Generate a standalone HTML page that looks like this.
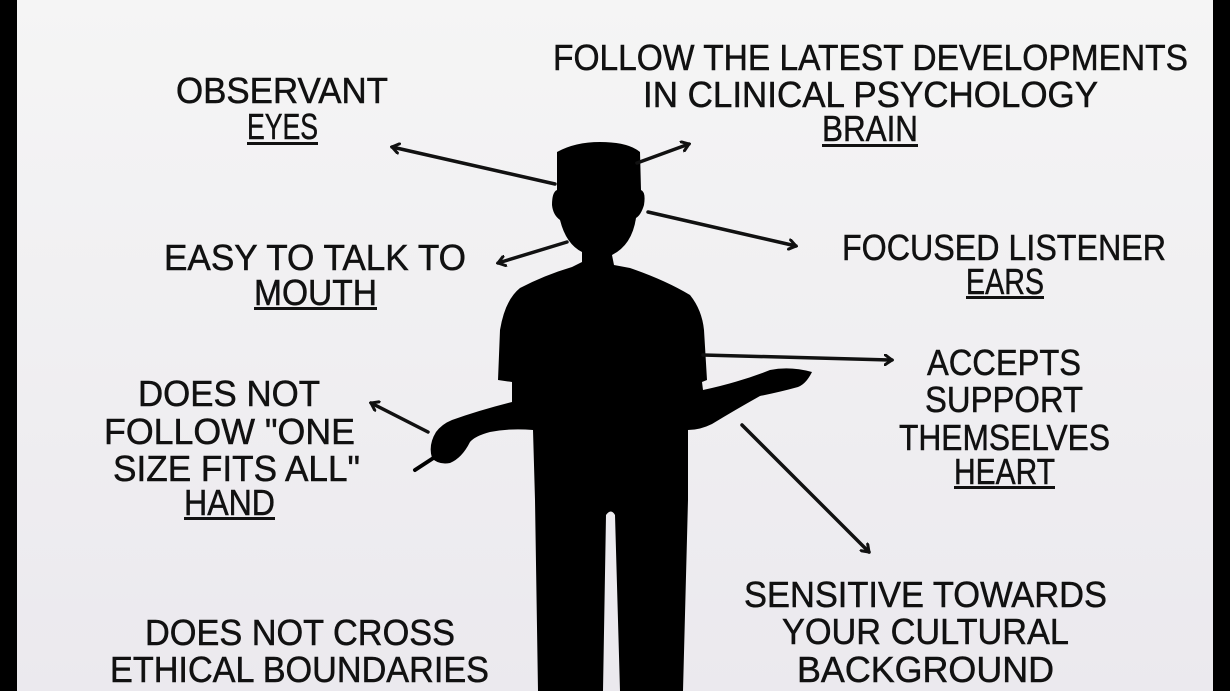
<!DOCTYPE html>
<html><head><meta charset="utf-8"><style>
html,body{margin:0;padding:0;}
body{width:1230px;height:691px;overflow:hidden;background:#000;}
svg{display:block}
text{font-family:"Liberation Sans",sans-serif;font-size:36px;fill:#111;stroke:#111;stroke-width:0.5;}
</style></head><body>
<svg width="1230" height="691" viewBox="0 0 1230 691" xmlns="http://www.w3.org/2000/svg">
<defs>
<linearGradient id="bg" x1="0" y1="0" x2="0" y2="1">
<stop offset="0" stop-color="#f5f5f5"/><stop offset="1" stop-color="#ebe9ee"/>
</linearGradient>
<marker id="a" markerWidth="10" markerHeight="12" refX="8" refY="6" orient="auto" markerUnits="userSpaceOnUse" viewBox="0 0 10 12">
<path d="M1,1 L8,6 L1,11" fill="none" stroke="#111" stroke-width="3" stroke-linecap="round"/>
</marker>
</defs>
<rect x="17" y="0" width="1196" height="691" fill="url(#bg)"/>
<g fill="#000">
<path d="M557,152 Q575,142 600,142 Q628,142 640,152 L641,190 Q646,192 644,205 Q641,215 636,218 Q632,245 612,255 L614,265 L630,268 Q665,280 690,295 Q702,310 704,330 L707,380 L702,382 L703,390 Q740,382 770,370 Q790,366 812,372 Q806,384 798,387 Q780,392 760,396 Q735,410 712,424 Q700,430 688,430 L688,500 L683,691 L620,691 L615,515 Q611,508 606,515 L603,691 L538,691 L535,500 L533,430 Q510,428 490,432 Q475,436 470,442 Q462,458 450,463 Q438,465 432,458 Q428,445 436,432 Q442,424 452,420 Q480,410 512,402 L512,382 L498,380 L500,330 Q505,300 520,288 Q545,275 572,267 L582,262 L582,252 Q566,244 560,220 Q553,215 552,205 Q552,192 557,190 Z"/>
<path d="M415,470 L438,455" stroke="#000" stroke-width="4" stroke-linecap="round"/>
</g>
<g stroke="#111" stroke-width="3.5" fill="none" stroke-linecap="round">
<line x1="555" y1="184" x2="392" y2="147" marker-end="url(#a)"/>
<line x1="637" y1="163" x2="689" y2="144" marker-end="url(#a)"/>
<line x1="648" y1="212" x2="796" y2="246" marker-end="url(#a)"/>
<line x1="567" y1="242" x2="498" y2="263" marker-end="url(#a)"/>
<line x1="703" y1="355" x2="892" y2="360" marker-end="url(#a)"/>
<line x1="428" y1="432" x2="371" y2="403" marker-end="url(#a)"/>
<line x1="742" y1="425" x2="869" y2="552" marker-end="url(#a)"/>
</g>
<g>
<text x="176" y="103" textLength="212" lengthAdjust="spacingAndGlyphs">OBSERVANT</text>
<text x="247" y="139" textLength="71" lengthAdjust="spacingAndGlyphs">EYES</text>
<text x="553" y="70" textLength="635" lengthAdjust="spacingAndGlyphs">FOLLOW THE LATEST DEVELOPMENTS</text>
<text x="643" y="107" textLength="455" lengthAdjust="spacingAndGlyphs">IN CLINICAL PSYCHOLOGY</text>
<text x="822" y="141" textLength="96" lengthAdjust="spacingAndGlyphs">BRAIN</text>
<text x="164" y="270" textLength="302" lengthAdjust="spacingAndGlyphs">EASY TO TALK TO</text>
<text x="254" y="305" textLength="123" lengthAdjust="spacingAndGlyphs">MOUTH</text>
<text x="842" y="260" textLength="324" lengthAdjust="spacingAndGlyphs">FOCUSED LISTENER</text>
<text x="966" y="294" textLength="78" lengthAdjust="spacingAndGlyphs">EARS</text>
<text x="927" y="375" textLength="154" lengthAdjust="spacingAndGlyphs">ACCEPTS</text>
<text x="925" y="412" textLength="158" lengthAdjust="spacingAndGlyphs">SUPPORT</text>
<text x="899" y="450" textLength="211" lengthAdjust="spacingAndGlyphs">THEMSELVES</text>
<text x="954" y="484" textLength="101" lengthAdjust="spacingAndGlyphs">HEART</text>
<text x="138" y="406" textLength="182" lengthAdjust="spacingAndGlyphs">DOES NOT</text>
<text x="104" y="444" textLength="251" lengthAdjust="spacingAndGlyphs">FOLLOW "ONE</text>
<text x="113" y="481" textLength="247" lengthAdjust="spacingAndGlyphs">SIZE FITS ALL"</text>
<text x="184" y="515" textLength="91" lengthAdjust="spacingAndGlyphs">HAND</text>
<text x="744" y="607" textLength="363" lengthAdjust="spacingAndGlyphs">SENSITIVE TOWARDS</text>
<text x="782" y="644" textLength="287" lengthAdjust="spacingAndGlyphs">YOUR CULTURAL</text>
<text x="797" y="682" textLength="257" lengthAdjust="spacingAndGlyphs">BACKGROUND</text>
<text x="145" y="645" textLength="310" lengthAdjust="spacingAndGlyphs">DOES NOT CROSS</text>
<text x="110" y="682" textLength="379" lengthAdjust="spacingAndGlyphs">ETHICAL BOUNDARIES</text>
</g>
<g fill="#111">
<rect x="247" y="142" width="71" height="3"/>
<rect x="822" y="144" width="96" height="3"/>
<rect x="254" y="307" width="123" height="3"/>
<rect x="966" y="296" width="78" height="3"/>
<rect x="954" y="486" width="101" height="3"/>
<rect x="184" y="517" width="91" height="3"/>
</g>
</svg>
</body></html>
